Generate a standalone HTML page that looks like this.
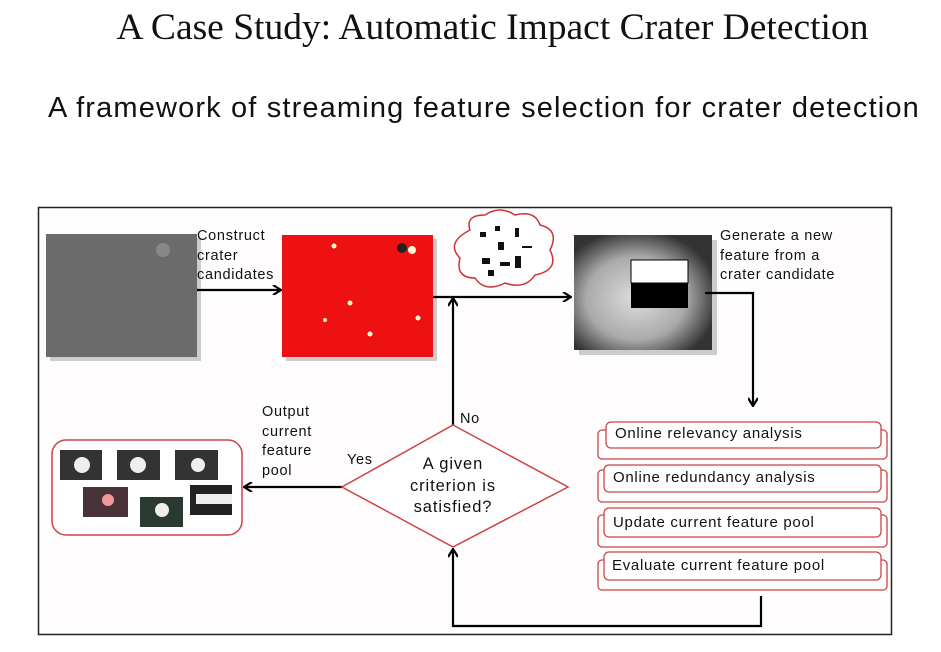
<!DOCTYPE html>
<html><head><style>
body{margin:0;width:941px;height:652px;background:#fff;position:relative;overflow:hidden;font-family:"Liberation Sans",sans-serif}
.t{position:absolute;white-space:nowrap}
.s{font-size:14.5px;letter-spacing:0.7px;line-height:19.5px;color:#111}
.b{font-size:15px;letter-spacing:0.7px;color:#111}
</style></head><body>
<div class="t" style="left:0;width:985px;text-align:center;top:6px;font-family:'Liberation Serif',serif;font-size:37.5px;color:#111">A Case Study: Automatic Impact Crater Detection</div>
<div class="t" style="left:48px;top:92px;font-size:29px;letter-spacing:1.15px;color:#111">A framework of streaming feature selection for crater detection</div>
<svg width="941" height="652" style="position:absolute;left:0;top:0">
<defs>
<marker id="a" markerWidth="10" markerHeight="10" refX="8" refY="5" orient="auto" markerUnits="userSpaceOnUse"><path d="M1,0 L9,5 L1,10" fill="none" stroke="#000" stroke-width="2.2"/></marker>
<radialGradient id="cr" cx="0.45" cy="0.55" r="0.6"><stop offset="0" stop-color="#ddd"/><stop offset="0.6" stop-color="#aaa"/><stop offset="1" stop-color="#333"/></radialGradient>
</defs>
<rect x="38.5" y="207.5" width="853" height="427" fill="#fefcfc" stroke="#222" stroke-width="1.5"/>
<rect x="50" y="238" width="151" height="123" fill="#ccc"/>
<rect x="46" y="234" width="151" height="123" fill="#6b6b6b"/>
<circle cx="163" cy="250" r="7" fill="#888"/>
<rect x="286" y="239" width="151" height="122" fill="#ccc"/>
<rect x="282" y="235" width="151" height="122" fill="#ee1111"/>
<g fill="#fff8d0"><circle cx="334" cy="246" r="2.5"/><circle cx="412" cy="250" r="4"/><circle cx="350" cy="303" r="2.5"/><circle cx="325" cy="320" r="2"/><circle cx="418" cy="318" r="2.5"/><circle cx="370" cy="334" r="2.5"/></g>
<circle cx="402" cy="248" r="5" fill="#222"/>
<path d="M470,230 q-5,-15 15,-15 q15,-10 30,0 q20,-5 25,10 q20,5 10,25 q10,20 -15,25 q-10,15 -30,8 q-20,10 -30,-5 q-20,0 -15,-20 q-15,-15 10,-28z" fill="#fff" stroke="#c33" stroke-width="1.5"/>
<g fill="#111"><rect x="480" y="232" width="6" height="5"/><rect x="495" y="226" width="5" height="5"/><rect x="515" y="228" width="4" height="9"/><rect x="498" y="242" width="6" height="8"/><rect x="522" y="246" width="10" height="2"/><rect x="482" y="258" width="8" height="6"/><rect x="500" y="262" width="10" height="4"/><rect x="515" y="256" width="6" height="12"/><rect x="488" y="270" width="6" height="6"/></g>
<rect x="579" y="240" width="138" height="115" fill="#ccc"/>
<rect x="574" y="235" width="138" height="115" fill="url(#cr)"/>
<rect x="631" y="260" width="57" height="23" fill="#fff" stroke="#000"/>
<rect x="631" y="283" width="57" height="25" fill="#000"/>
<g stroke="#000" stroke-width="2.2" fill="none">
<line x1="197" y1="290" x2="280" y2="290" marker-end="url(#a)"/>
<line x1="433" y1="297" x2="570" y2="297" marker-end="url(#a)"/>
<line x1="453" y1="425" x2="453" y2="299" marker-end="url(#a)"/>
<polyline points="705,293 753,293 753,405" marker-end="url(#a)"/>
<polyline points="761,596 761,626 453,626 453,550" marker-end="url(#a)"/>
<line x1="342" y1="487" x2="245" y2="487" marker-end="url(#a)"/>
</g>
<polygon points="453,425 568,487 453,547 342,487" fill="#fff" stroke="#c44" stroke-width="1.5"/>
<rect x="52" y="440" width="190" height="95" rx="14" fill="#fff" stroke="#c44" stroke-width="1.5"/>
<g fill="#333"><rect x="60" y="450" width="42" height="30"/><rect x="117" y="450" width="43" height="30"/><rect x="175" y="450" width="43" height="30"/><rect x="83" y="487" width="45" height="30" fill="#4a3338"/><rect x="140" y="497" width="43" height="30" fill="#2a3a30"/><rect x="190" y="485" width="42" height="30" fill="#222"/></g>
<g fill="#eee"><circle cx="82" cy="465" r="8"/><circle cx="138" cy="465" r="8"/><circle cx="198" cy="465" r="7"/><circle cx="108" cy="500" r="6" fill="#e99"/><circle cx="162" cy="510" r="7"/><rect x="196" y="494" width="36" height="10"/></g>
<g fill="#fff" stroke="#c44" stroke-width="1.3">
<rect x="598" y="430" width="289" height="29" rx="4"/><rect x="606" y="422" width="275" height="26" rx="5"/>
<rect x="598" y="470" width="289" height="32" rx="4"/><rect x="604" y="465" width="277" height="27" rx="5"/>
<rect x="598" y="515" width="289" height="32" rx="4"/><rect x="604" y="508" width="277" height="29" rx="5"/>
<rect x="598" y="560" width="289" height="30" rx="4"/><rect x="604" y="552" width="277" height="28" rx="5"/>
</g>
</svg>
<div class="t s" style="left:197px;top:227px">Construct<br>crater<br>candidates</div>
<div class="t s" style="left:720px;top:227px">Generate a new<br>feature from a<br>crater candidate</div>
<div class="t s" style="left:262px;top:403px">Output<br>current<br>feature<br>pool</div>
<div class="t s" style="left:347px;top:451px">Yes</div>
<div class="t s" style="left:460px;top:410px">No</div>
<div class="t" style="left:383px;top:454px;width:140px;text-align:center;font-size:16.5px;letter-spacing:0.9px;line-height:21.5px;color:#111">A given<br>criterion is<br>satisfied?</div>
<div class="t b" style="left:615px;top:425px">Online relevancy analysis</div>
<div class="t b" style="left:613px;top:469px">Online redundancy analysis</div>
<div class="t b" style="left:613px;top:514px">Update current feature pool</div>
<div class="t b" style="left:612px;top:557px">Evaluate current feature pool</div>
</body></html>
